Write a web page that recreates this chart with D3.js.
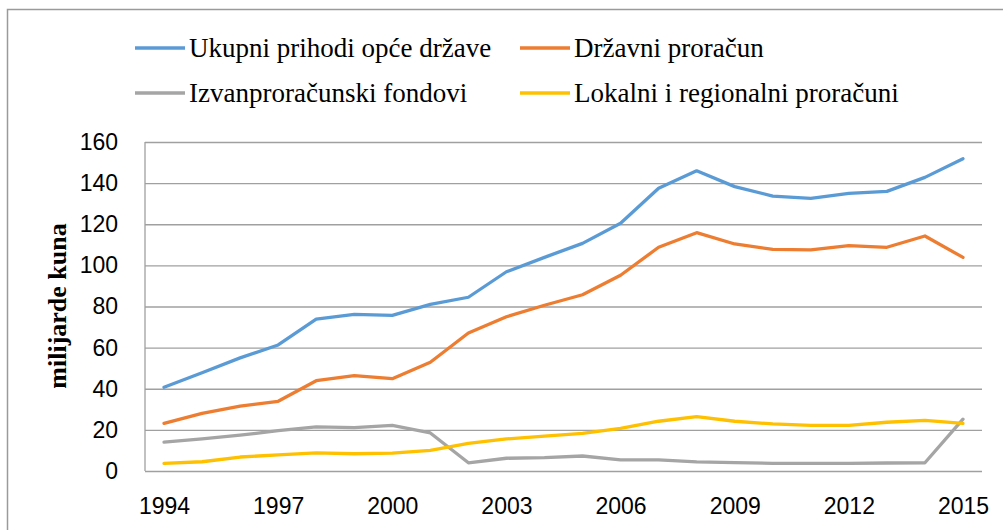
<!DOCTYPE html>
<html>
<head>
<meta charset="utf-8">
<script src="https://cdn.jsdelivr.net/npm/d3@7"></script>
<style>
  body { margin: 0; background: #fff; }
</style>
</head>
<body>
<div id="chart"></div>
<script>
const years = d3.range(1994, 2016)
const tickYears = [1994, 1997, 2000, 2003, 2006, 2009, 2012, 2015]
const yTicks = [0, 20, 40, 60, 80, 100, 120, 140, 160]

const seriesNames = ["Ukupni prihodi opće države", "Državni proračun", "Izvanproračunski fondovi", "Lokalni i regionalni proračuni"]
const seriesColors = ["#5B9BD5", "#ED7D31", "#A5A5A5", "#FFC000"]

const ukupni = [40.7, 47.8, 55, 61.3, 73.9, 76.2, 75.7, 81, 84.5, 96.9, 103.9, 110.7, 120.5, 137.5, 146, 138.3, 133.7, 132.6, 135, 136, 142.8, 151.9]
const drzavni = [23.2, 28, 31.6, 33.9, 43.9, 46.4, 44.9, 52.9, 67.1, 75, 80.6, 85.7, 95.2, 108.8, 115.9, 110.4, 107.8, 107.5, 109.6, 108.8, 114.3, 103.9]
const izvan = [14, 15.6, 17.4, 19.6, 21.5, 21.1, 22.2, 18.5, 4, 6.2, 6.5, 7.3, 5.4, 5.4, 4.4, 4.1, 3.7, 3.7, 3.7, 3.9, 4, 25.2]
const lokalni = [3.7, 4.5, 6.8, 7.8, 8.8, 8.4, 8.7, 10, 13.4, 15.6, 17, 18.3, 20.7, 24.2, 26.4, 24.2, 22.9, 22.2, 22.2, 23.7, 24.6, 23.2]

const allSeries = [ukupni, drzavni, izvan, lokalni]

const W = 1003, H = 530
let margin = { top: 142, right: 21, bottom: 59, left: 145 },
    width = W - margin.left - margin.right,
    height = H - margin.top - margin.bottom

const svg = d3.select("#chart").append("svg")
    .attr("width", W)
    .attr("height", H)

// outer border
svg.append("rect")
    .attr("x", 7.5).attr("y", 9.5)
    .attr("width", 1010).attr("height", 540)
    .attr("fill", "none")
    .attr("stroke", "#9a9a9a")
    .attr("stroke-width", 1.5)

const g = svg.append("g")
    .attr("transform", "translate(" + margin.left + "," + margin.top + ")")

let x = d3.scalePoint()
    .domain(years)
    .range([0, width])
    .padding(0.5)

let y = d3.scaleLinear()
    .domain([0, 160])
    .range([height, 0])

// grid lines
g.append("g")
    .call(d3.axisLeft(y).tickValues(yTicks).tickSize(-width).tickFormat(""))
    .call(a => {
        a.select(".domain").remove()
        a.selectAll(".tick line").attr("stroke", "#a0a0a0").attr("stroke-width", 1.3)
    })

// y axis line
g.append("line")
    .attr("x1", 0).attr("x2", 0)
    .attr("y1", 0).attr("y2", height)
    .attr("stroke", "#a0a0a0").attr("stroke-width", 1.3)

// y tick labels
g.append("g")
    .call(d3.axisLeft(y).tickValues(yTicks).tickSize(0).tickPadding(27))
    .call(a => {
        a.select(".domain").remove()
        a.selectAll("text")
            .attr("font-family", "'Liberation Sans', Arial, sans-serif")
            .attr("font-size", 23)
            .attr("fill", "#000")
    })

// x tick labels
g.append("g")
    .attr("transform", "translate(0," + height + ")")
    .call(d3.axisBottom(x).tickValues(tickYears).tickSize(0).tickPadding(27))
    .call(a => {
        a.select(".domain").remove()
        a.selectAll("text")
            .attr("font-family", "'Liberation Sans', Arial, sans-serif")
            .attr("font-size", 23)
            .attr("fill", "#000")
    })

// y axis title
svg.append("text")
    .attr("transform", "translate(66,306) rotate(-90)")
    .attr("text-anchor", "middle")
    .attr("font-family", "'Liberation Serif', 'Times New Roman', serif")
    .attr("font-weight", "bold")
    .attr("font-size", 26)
    .text("milijarde kuna")

// lines
const line = d3.line()
    .x((d, i) => x(years[i]))
    .y(d => y(d))

allSeries.forEach((s, i) => {
    g.append("path")
        .datum(s)
        .attr("fill", "none")
        .attr("stroke", seriesColors[i])
        .attr("stroke-width", 3.3)
        .attr("stroke-linejoin", "round")
        .attr("stroke-linecap", "round")
        .attr("d", line)
})

// legend
const legendPos = [[135, 48], [520, 48], [135, 93], [520, 93]]
seriesNames.forEach((name, i) => {
    let lg = svg.append("g").attr("transform", "translate(" + legendPos[i][0] + "," + legendPos[i][1] + ")")
    lg.append("line")
        .attr("x1", 0).attr("x2", 50)
        .attr("stroke", seriesColors[i])
        .attr("stroke-width", 3.3)
    lg.append("text")
        .attr("x", 54)
        .attr("dy", "0.35em")
        .attr("font-family", "'Liberation Serif', 'Times New Roman', serif")
        .attr("font-size", 27)
        .text(name)
})
</script>
</body>
</html>
